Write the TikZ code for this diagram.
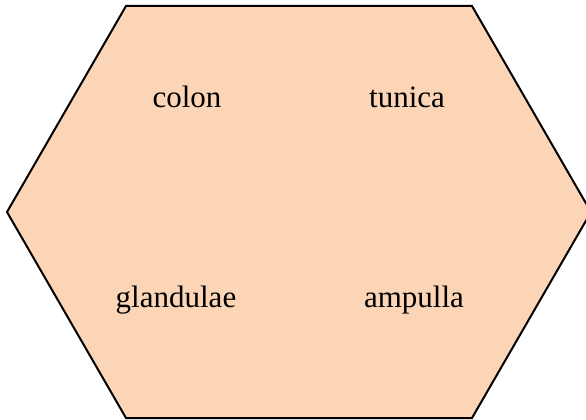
\documentclass[tikz,border=0pt]{standalone}
\usepackage{fontspec}
\setmainfont{Liberation Serif}
\definecolor{peach}{RGB}{251,213,181}
\begin{document}
\begin{tikzpicture}[x=1pt,y=-1pt,
  hexfill/.style={fill=peach,draw=black,line width=2pt,line join=miter},
  lbl/.style={anchor=base,inner sep=0pt,font=\fontsize{31}{33}\selectfont}]
\useasboundingbox (0,0) rectangle (586,420);
\coordinate (h1) at (126,6);
\coordinate (h2) at (472,6);
\coordinate (h3) at (591,212);
\coordinate (h4) at (472,418);
\coordinate (h5) at (126,418);
\coordinate (h6) at (7,212);
\draw[hexfill] (h1) -- (h2) -- (h3) -- (h4) -- (h5) -- (h6) -- cycle;
\node[lbl] (colon) at (187,107) {colon};
\node[lbl] (tunica) at (407,107) {tunica};
\node[lbl] (glandulae) at (176,307) {glandulae};
\node[lbl] (ampulla) at (414,307) {ampulla};
\end{tikzpicture}
\end{document}
